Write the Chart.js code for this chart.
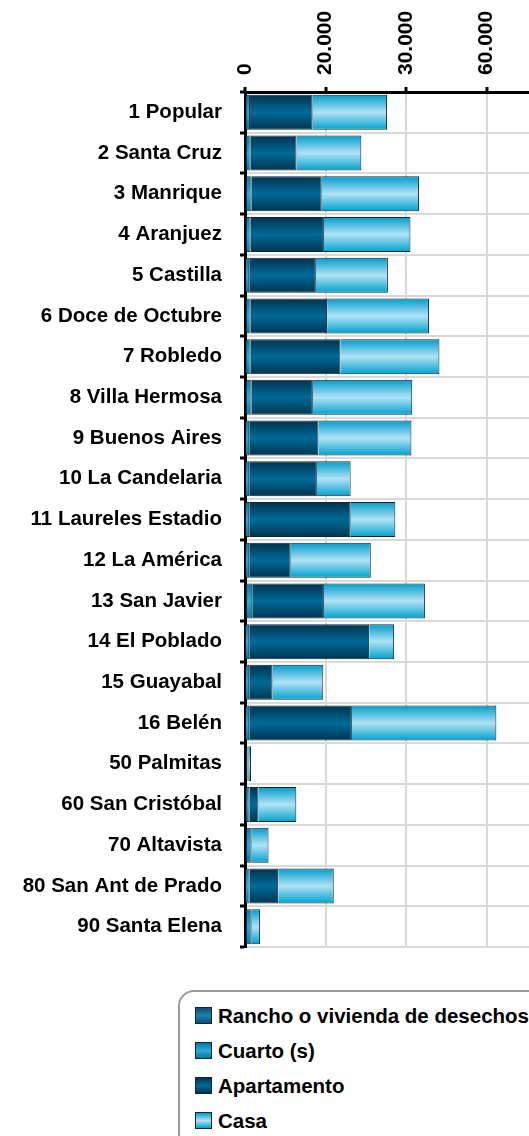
<!DOCTYPE html>
<html>
<head>
<meta charset="utf-8">
<script src="https://cdn.jsdelivr.net/npm/chart.js@4.4.1/dist/chart.umd.min.js"></script>
<style>
  body { margin: 0; width: 529px; height: 1136px; overflow: hidden; background: #fff; font-family: 'Liberation Sans', Arial, sans-serif; }
  #contenedor { position: absolute; left: 0; top: 0; width: 600px; height: 950px; }
  #leyenda { position: absolute; left: 178px; top: 990px; width: 420px; height: 160px; box-sizing: border-box;
             border: 2px solid #9a9a9a; border-radius: 16px; padding: 12px 0 0 15px; }
  #leyenda div { height: 35px; line-height: 35px; font: bold 20.5px 'Liberation Sans', Arial, sans-serif; color: #000; white-space: nowrap; }
  #leyenda span { display: inline-block; width: 15px; height: 15px; border: 1px solid #0d2633; margin-right: 6px; vertical-align: -1px; }
</style>
</head>
<body>
<div id="contenedor"><canvas id="myChart" width="600" height="950"></canvas></div>
<div id="leyenda"></div>
<script>
// datos (numero de viviendas por comuna)
const categorias = ['1 Popular', '2 Santa Cruz', '3 Manrique', '4 Aranjuez', '5 Castilla', '6 Doce de Octubre',
  '7 Robledo', '8 Villa Hermosa', '9 Buenos Aires', '10 La Candelaria', '11 Laureles Estadio', '12 La América',
  '13 San Javier', '14 El Poblado', '15 Guayabal', '16 Belén', '50 Palmitas', '60 San Cristóbal', '70 Altavista',
  '80 San Ant de Prado', '90 Santa Elena'];
const series = ['Rancho o vivienda de desechos', 'Cuarto (s)', 'Apartamento', 'Casa'];
const rancho = [300, 350, 450, 350, 250, 350, 300, 500, 250, 200, 150, 200, 450, 150, 250, 250, 400, 300, 450, 250, 450];
const cuarto = [950, 1050, 1200, 1050, 800, 1050, 1100, 1150, 800, 850, 900, 850, 1350, 900, 800, 800, 200, 850, 1200, 900, 1200];
const apartamento = [15550, 11400, 17400, 18200, 16550, 19000, 22300, 15200, 17200, 16800, 25200, 10300, 17800, 29800, 5800, 25500, 300, 2200, 0, 7100, 0];
const casa = [18500, 16100, 24200, 21500, 17900, 25300, 24600, 24700, 23100, 8400, 11100, 19900, 25100, 6200, 12600, 35900, 600, 9400, 4200, 13800, 2100];
const ticksX = ['0', '20.000', '30.000', '60.000', '80.000'];

// colores: borde superior, centro, borde inferior
const colores = [
  ['#0a4f72', '#1f7fae', '#0a4f72'],
  ['#0079a8', '#2eaad8', '#0079a8'],
  ['#00324d', '#006a98', '#00344f'],
  ['#009ccb', '#b0e2f5', '#00a2ce']
];
const BAR_PCT = 0.86;

document.addEventListener('DOMContentLoaded', function(){
    iniciarApp();
});

function iniciarApp(){
    dibujarGrafica();
    dibujarLeyenda();
}

function degradado(context, stops){
    const chart = context.chart;
    const y = chart.scales.y;
    if (!y || context.dataIndex === undefined) return stops[1];
    const c = y.getPixelForValue(context.dataIndex);
    const h = (y.height / categorias.length) * BAR_PCT / 2;
    if (!isFinite(c) || !isFinite(h) || h <= 0) return stops[1];
    const g = chart.ctx.createLinearGradient(0, c - h, 0, c + h);
    g.addColorStop(0, stops[0]);
    g.addColorStop(0.5, stops[1]);
    g.addColorStop(1, stops[2]);
    return g;
}

function dibujarGrafica(){
    const valores = [rancho, cuarto, apartamento, casa];
    const datasets = series.map((nombre, i) => ({
        label: nombre,
        data: valores[i],
        backgroundColor: ctx => degradado(ctx, colores[i]),
        borderColor: '#0d2633',
        borderWidth: 1,
        barPercentage: BAR_PCT,
        categoryPercentage: 1
    }));

    const ctx = document.getElementById('myChart').getContext('2d');
    new Chart(ctx, {
        type: 'bar',
        data: { labels: categorias, datasets: datasets },
        options: {
            indexAxis: 'y',
            responsive: false,
            animation: false,
            events: [],
            layout: { padding: { top: 0, left: 0, right: 33, bottom: 3 } },
            plugins: { legend: { display: false }, tooltip: { enabled: false } },
            scales: {
                x: {
                    position: 'top',
                    stacked: true,
                    min: 0,
                    max: 80000,
                    afterFit: s => { s.height = 92; s.paddingLeft = 0; s.paddingRight = 0; },
                    border: { color: '#000', width: 3 },
                    grid: { color: '#d9d9d9', lineWidth: 2, tickColor: '#000', tickWidth: 3, tickLength: 5 },
                    ticks: {
                        stepSize: 20000,
                        minRotation: 90,
                        maxRotation: 90,
                        padding: 12,
                        labelOffset: 25,
                        color: '#000',
                        font: { family: "'Liberation Sans', Arial, sans-serif", size: 21, weight: 'bold' },
                        callback: (v, i) => ticksX[i]
                    }
                },
                y: {
                    stacked: true,
                    afterFit: s => { s.width = 245; s.paddingTop = 0; s.paddingBottom = 0; },
                    border: { color: '#000', width: 3 },
                    grid: { color: '#d9d9d9', lineWidth: 2, tickColor: '#000', tickWidth: 3, tickLength: 5 },
                    ticks: {
                        padding: 18,
                        color: '#000',
                        font: { family: "'Liberation Sans', Arial, sans-serif", size: 20.5, weight: 'bold' }
                    }
                }
            }
        }
    });
}

function dibujarLeyenda(){
    const caja = document.getElementById('leyenda');
    series.forEach((nombre, i) => {
        const fila = document.createElement('div');
        const cuadro = document.createElement('span');
        cuadro.style.background = 'linear-gradient(' + colores[i][0] + ', ' + colores[i][1] + ', ' + colores[i][2] + ')';
        fila.appendChild(cuadro);
        fila.appendChild(document.createTextNode(nombre));
        caja.appendChild(fila);
    });
}
</script>
</body>
</html>
